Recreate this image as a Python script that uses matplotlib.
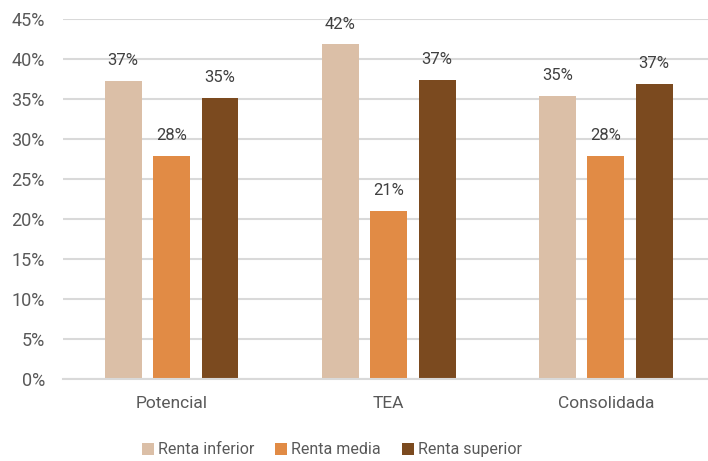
import numpy as np
import matplotlib
matplotlib.use("Agg")
import matplotlib.pyplot as plt
from matplotlib.patches import Patch

categories = ["Potencial", "TEA", "Consolidada"]
series = ["Renta inferior", "Renta media", "Renta superior"]
renta_inferior = [37.2, 41.8, 35.4]
renta_media = [27.9, 21.0, 27.9]
renta_superior = [35.1, 37.4, 36.9]
yticks = [0, 5, 10, 15, 20, 25, 30, 35, 40, 45]

colors = ["#DBBFA7", "#E18B45", "#7B4A1F"]
text_color = "#595959"

plt.rcParams["font.family"] = ["Roboto", "DejaVu Sans"]

fig = plt.figure(figsize=(7.08, 4.61), dpi=100)
ax = fig.add_axes([0.089, 0.177, 1.009 - 0.089, 0.9594 - 0.177])

x = np.arange(len(categories))
width = 0.17
offset = 0.223
for i, (vals, c) in enumerate(zip([renta_inferior, renta_media, renta_superior], colors)):
    pos = x + (i - 1) * offset
    bars = ax.bar(pos, vals, width, color=c, zorder=2)
    for b, v in zip(bars, vals):
        ax.text(b.get_x() + b.get_width() / 2, v + 1.6, f"{round(v):.0f}%",
                ha="center", va="bottom", fontsize=12, color="#404040")

ax.set_xlim(-0.5, 2.5)
ax.set_ylim(0, 45)
ax.set_yticks(yticks)
ax.set_yticklabels([f"{t}%" for t in yticks])
ax.set_xticks(x)
ax.set_xticklabels(categories)
ax.yaxis.grid(True, color="#D9D9D9", linewidth=1.5, zorder=0)
ax.set_axisbelow(True)
for s in ["top", "right", "left"]:
    ax.spines[s].set_visible(False)
ax.spines["bottom"].set_color("#D9D9D9")
ax.spines["bottom"].set_linewidth(1.5)
ax.tick_params(axis="both", length=0, colors=text_color)
ax.tick_params(axis="x", pad=12, labelsize=12.5)
ax.tick_params(axis="y", pad=13, labelsize=13)

handles = [Patch(facecolor=c, edgecolor="none") for c in colors]
fig.legend(handles, series, loc="center", bbox_to_anchor=(0.469, 0.024), ncol=3,
           frameon=False, fontsize=11.5, handlelength=0.75, handleheight=0.75,
           handletextpad=0.25, columnspacing=1.3, labelcolor=text_color)

fig.savefig("out.png", dpi=100)
